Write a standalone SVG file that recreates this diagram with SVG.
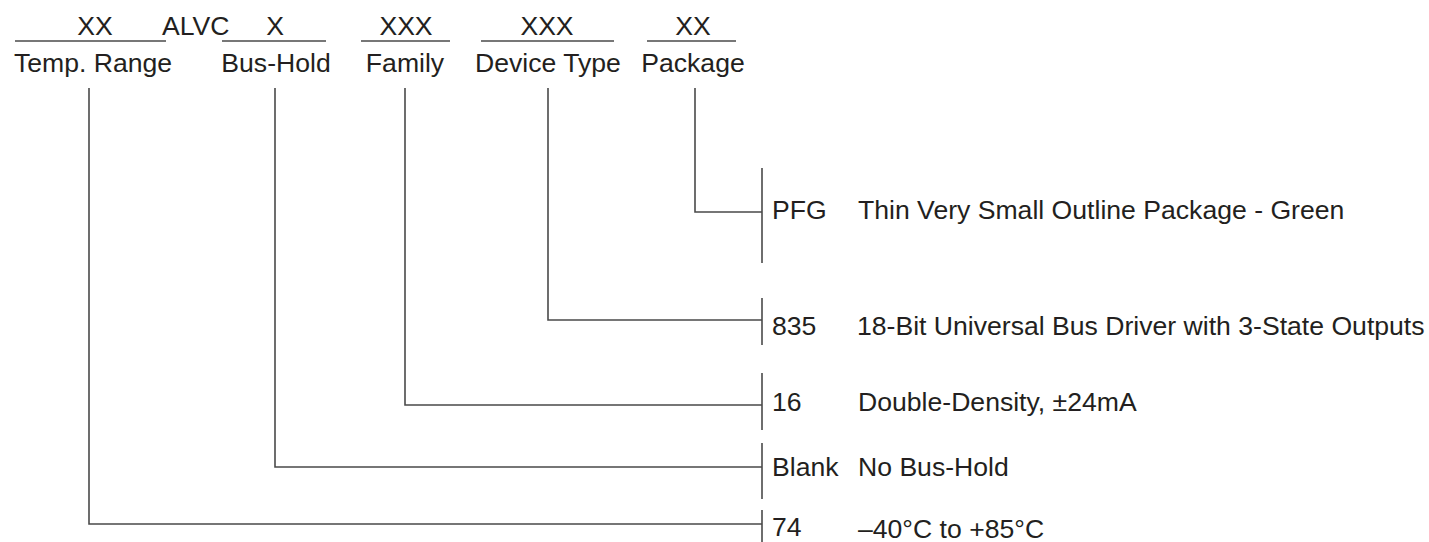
<svg xmlns="http://www.w3.org/2000/svg" width="1429" height="542" viewBox="0 0 1429 542">
<style>
text{font-family:"Liberation Sans",Arial,sans-serif;font-size:26.6px;fill:#231f20}
.ln{stroke:#4a4a4a;stroke-width:1.6;fill:none}
.m{text-anchor:middle}
</style>
<rect width="1429" height="542" fill="#fff"/>
<g id="header">
<g id="temp"><text x="95" y="35" class="m">XX</text><line class="ln" x1="15" y1="41" x2="166" y2="41"/><text x="93" y="72" class="m">Temp. Range</text></g>
<g id="alvc"><text x="162" y="35">ALVC</text></g>
<g id="bushold"><text x="275" y="35" class="m">X</text><line class="ln" x1="222" y1="41" x2="326" y2="41"/><text x="276" y="72" class="m">Bus-Hold</text></g>
<g id="family"><text x="406" y="35" class="m">XXX</text><line class="ln" x1="361" y1="41" x2="450" y2="41"/><text x="405" y="72" class="m">Family</text></g>
<g id="devtype"><text x="547" y="35" class="m">XXX</text><line class="ln" x1="481" y1="41" x2="614" y2="41"/><text x="548" y="72" class="m">Device Type</text></g>
<g id="package"><text x="693" y="35" class="m">XX</text><line class="ln" x1="647" y1="41" x2="736" y2="41"/><text x="693" y="72" class="m">Package</text></g>
</g>
<g id="connectors">
<polyline class="ln" points="695,88 695,212 762,212"/>
<polyline class="ln" points="548,88 548,320 762,320"/>
<polyline class="ln" points="405,88 405,405 762,405"/>
<polyline class="ln" points="275,88 275,467 762,467"/>
<polyline class="ln" points="89,88 89,524 762,524"/>
</g>
<g id="opt-pfg"><line class="ln" x1="762" y1="168" x2="762" y2="263"/><text x="772" y="219">PFG</text><text x="858" y="219">Thin Very Small Outline Package - Green</text></g>
<g id="opt-835"><line class="ln" x1="762" y1="298" x2="762" y2="345"/><text x="772" y="335">835</text><text x="857" y="335">18-Bit Universal Bus Driver with 3-State Outputs</text></g>
<g id="opt-16"><line class="ln" x1="762" y1="373" x2="762" y2="430"/><text x="772" y="411">16</text><text x="858" y="411">Double-Density, ±24mA</text></g>
<g id="opt-blank"><line class="ln" x1="762" y1="443" x2="762" y2="499"/><text x="772" y="476">Blank</text><text x="858" y="476">No Bus-Hold</text></g>
<g id="opt-74"><line class="ln" x1="762" y1="510" x2="762" y2="542"/><text x="772" y="536">74</text><text x="858" y="538">–40°C to +85°C</text></g>
</svg>
